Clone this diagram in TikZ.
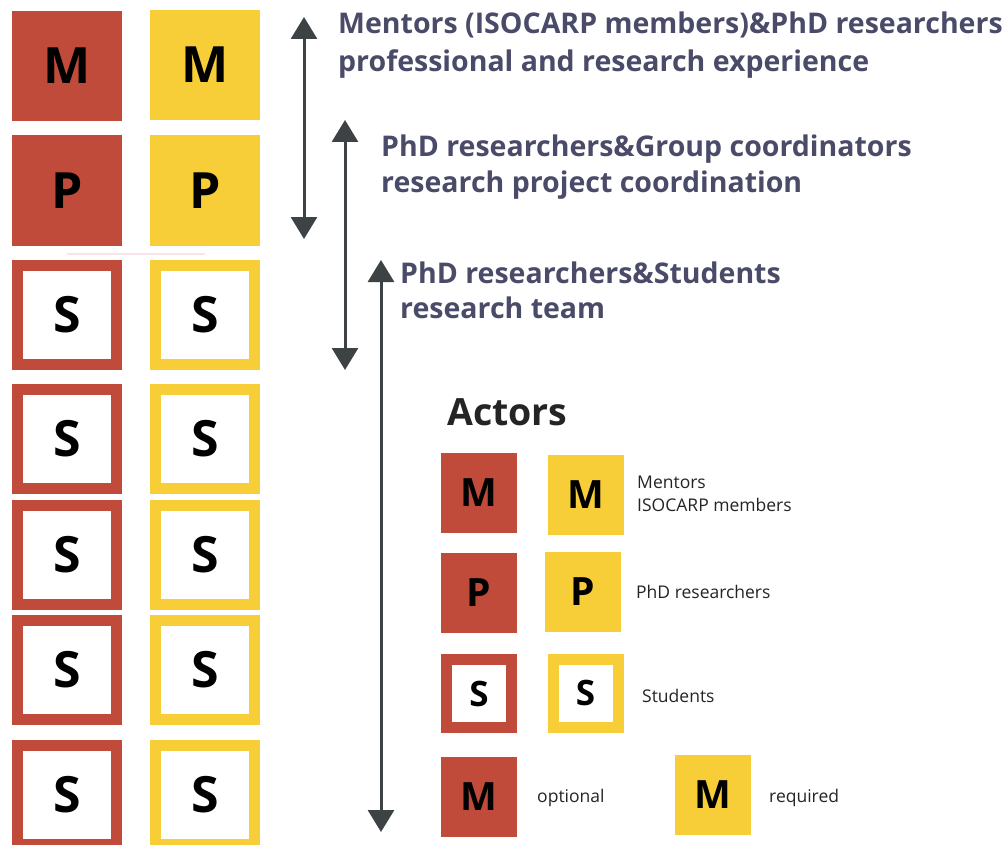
\documentclass[tikz,border=0pt]{standalone}
\usepackage{fontspec}
\setmainfont{Open Sans}
\usetikzlibrary{arrows.meta}
\definecolor{cred}{HTML}{C14B3A}
\definecolor{cyel}{HTML}{F7CE37}
\definecolor{ctxt}{HTML}{494B68}
\definecolor{carr}{HTML}{3D4245}
\definecolor{cdark}{HTML}{262324}
\definecolor{cpink}{HTML}{FBE3EA}
\begin{document}
\begin{tikzpicture}[x=1pt,y=-1pt,
  bigfill/.style={minimum width=110pt, minimum height=110pt, inner sep=0pt, outer sep=0pt,
    font=\fontsize{50}{50}\selectfont\bfseries, text=black},
  bigout/.style={minimum width=99pt, minimum height=99pt, inner sep=0pt, outer sep=0pt,
    line width=11pt, fill=white, font=\fontsize{50}{50}\selectfont\bfseries, text=black},
  legfill/.style={minimum width=76pt, minimum height=80pt, inner sep=0pt, outer sep=0pt,
    font=\fontsize{39}{39}\selectfont\bfseries, text=black},
  legout/.style={minimum width=65pt, minimum height=68pt, inner sep=0pt, outer sep=0pt,
    line width=11pt, fill=white, font=\fontsize{35}{35}\selectfont\bfseries, text=black},
  head/.style={anchor=base west, inner sep=0pt, text=ctxt, font=\fontsize{28.5}{28.5}\selectfont\bfseries},
  legtxt/.style={anchor=base west, inner sep=0pt, text=cdark, font=\fontsize{17.5}{17.5}\selectfont},
  span/.style={draw=carr, line width=3pt, {Triangle[width=26pt,length=22pt]}-{Triangle[width=26pt,length=22pt]}}
]
\useasboundingbox (0,0) rectangle (1006,845);

% left columns
\node[bigfill, fill=cred] (rM) at (67,66) {M};
\node[bigfill, fill=cyel] (yM) at (205,65) {M};
\node[bigfill, fill=cred] (rP) at (67,190.5) {P};
\node[bigfill, fill=cyel] (yP) at (205,190.5) {P};
\draw[cpink, line width=2pt] (67,254) -- (205,254);
\foreach \i/\yy in {1/315,2/439,3/555,4/669.5,5/795}{
  \node[bigout, draw=cred] (rS\i) at (67,\yy) {S};
  \node[bigout, draw=cyel] (yS\i) at (205,\yy) {S};
}

% arrows
\coordinate (a1t) at (304,17);
\coordinate (a1b) at (304,239);
\coordinate (a2t) at (345,120);
\coordinate (a2b) at (345,370);
\coordinate (a3t) at (381,260);
\coordinate (a3b) at (381,832);
\draw[span] (a1t) -- (a1b);
\draw[span] (a2t) -- (a2b);
\draw[span] (a3t) -- (a3b);

% headings
\node[head] (h1a) at (338,34) {Mentors (ISOCARP members)\&PhD researchers};
\node[head] (h1b) at (338,72) {professional and research experience};
\node[head] (h2a) at (381,157) {PhD researchers\&Group coordinators};
\node[head] (h2b) at (381,193) {research project coordination};
\node[head] (h3a) at (400,283) {PhD researchers\&Students};
\node[head] (h3b) at (400,318) {research team};

% legend
\node[anchor=base west, inner sep=0pt, text=cdark, font=\fontsize{37.5}{37.5}\selectfont\bfseries] (act) at (447,425) {Actors};
\node[legfill, fill=cred] (lrM) at (479,493) {M};
\node[legfill, fill=cyel] (lyM) at (586,494.5) {M};
\node[legtxt] (t1) at (637,488) {Mentors};
\node[legtxt] (t2) at (637,511) {ISOCARP members};
\node[legfill, fill=cred] (lrP) at (479,593) {P};
\node[legfill, fill=cyel] (lyP) at (582.5,592) {P};
\node[legtxt] (t3) at (636,598) {PhD researchers};
\node[legout, draw=cred] (lrS) at (479,693.5) {S};
\node[legout, draw=cyel] (lyS) at (585.5,693) {S};
\node[legtxt] (t4) at (642,702) {Students};
\node[legfill, fill=cred] (lrM2) at (479,796.5) {M};
\node[legtxt] (t5) at (537,802) {optional};
\node[legfill, fill=cyel] (lyM2) at (712.5,794.5) {M};
\node[legtxt] (t6) at (769,802) {required};
\end{tikzpicture}
\end{document}
